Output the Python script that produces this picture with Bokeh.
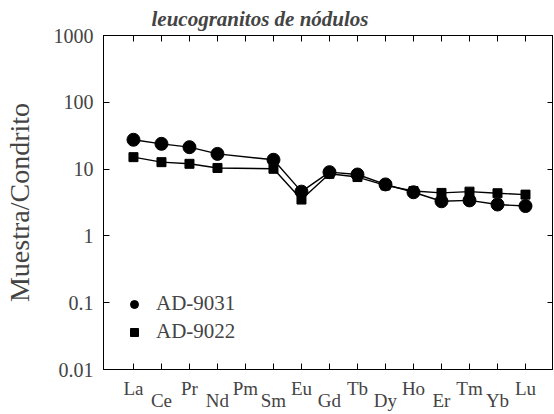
from bokeh.plotting import figure
from bokeh.models import FixedTicker, LinearAxis, LogAxis, Range1d, Legend, LegendItem
from bokeh.embed import file_html
from bokeh.resources import INLINE

elements = ["La", "Ce", "Pr", "Nd", "Pm", "Sm", "Eu", "Gd", "Tb", "Dy", "Ho", "Er", "Tm", "Yb", "Lu"]
sample_elements = ["La", "Ce", "Pr", "Nd", "Sm", "Eu", "Gd", "Tb", "Dy", "Ho", "Er", "Tm", "Yb", "Lu"]
ad9031 = [27.5, 23.9, 21.3, 16.9, 13.8, 4.6, 9.0, 8.3, 5.9, 4.5, 3.3, 3.4, 2.95, 2.8]
ad9022 = [15.1, 12.7, 12.0, 10.4, 10.1, 3.5, 8.5, 7.6, 5.7, 4.7, 4.4, 4.6, 4.35, 4.15]
y_ticks = [0.01, 0.1, 1, 10, 100, 1000]
y_tick_labels = ["0.01", "0.1", "1", "10", "100", "1000"]

SERIF = "Liberation Serif"

xs = [elements.index(e) for e in sample_elements]
even = [i for i in range(len(elements)) if i % 2 == 0]
odd = [i for i in range(len(elements)) if i % 2 == 1]

p = figure(frame_width=450, frame_height=334, output_backend="svg", toolbar_location=None,
           x_range=Range1d(-1.07, 15.0), y_range=Range1d(0.01, 1000),
           y_axis_type="log")
p.min_border_left = 0
p.min_border_right = 0
p.min_border_top = 0
p.min_border_bottom = 0
p.xgrid.visible = False
p.ygrid.visible = False
p.outline_line_color = "black"
p.outline_line_width = 1
p.background_fill_color = "white"
p.border_fill_color = "white"

p.title.text = "leucogranitos de nódulos"
p.title.text_font = SERIF
p.title.text_font_style = "bold italic"
p.title.text_font_size = "21px"
p.title.align = "left"
p.title.offset = 48
p.title.standoff = 9

# data
l1 = p.line(xs, ad9031, line_color="black", line_width=1.4)
l2 = p.line(xs, ad9022, line_color="black", line_width=1.4)
c1 = p.scatter(xs, ad9031, marker="circle", size=13, fill_color="black", line_color="black")
s2 = p.scatter(xs, ad9022, marker="square", size=9, fill_color="black", line_color="black")

# bottom axis (upper row of labels; odd positions get unlabeled minor ticks)
xa = p.xaxis[0]
xa.ticker = FixedTicker(ticks=even, minor_ticks=odd)
xa.major_label_overrides = {i: elements[i] for i in even}
xa.major_tick_in = 6
xa.major_tick_out = 0
xa.minor_tick_in = 6
xa.minor_tick_out = 0
xa.minor_tick_line_color = "black"
xa.major_label_text_font = SERIF
xa.major_label_text_font_size = "19px"
xa.major_label_standoff = 8
xa.axis_line_color = "black"

# second row of labels
xa2 = LinearAxis(ticker=FixedTicker(ticks=odd),
                 major_label_overrides={i: elements[i] for i in odd},
                 major_tick_line_color=None, minor_tick_line_color=None,
                 major_tick_out=0, minor_tick_out=0, major_tick_in=0, minor_tick_in=0,
                 axis_line_color=None, major_label_standoff=-12,
                 major_label_text_font=SERIF, major_label_text_font_size="19px")
p.add_layout(xa2, "below")

# left axis
ya = p.yaxis[0]
ya.ticker = FixedTicker(ticks=y_ticks)
ya.major_label_overrides = {t: lab for t, lab in zip(y_ticks, y_tick_labels)}
ya.major_tick_in = 6
ya.major_tick_out = 0
ya.minor_tick_line_color = None
ya.major_label_text_font = SERIF
ya.major_label_text_font_size = "20px"
ya.major_label_standoff = 10
ya.axis_label = "Muestra/Condrito"
ya.axis_label_text_font = SERIF
ya.axis_label_text_font_style = "normal"
ya.axis_label_text_font_size = "28px"
ya.axis_label_standoff = 16

# top and right tick-only axes (ticks drawn as minor ticks, so no labels)
top = LinearAxis(ticker=FixedTicker(ticks=[], minor_ticks=list(range(len(elements)))),
                 major_tick_line_color=None, major_tick_out=0, major_tick_in=0,
                 major_label_standoff=0,
                 minor_tick_in=6, minor_tick_out=0, minor_tick_line_color="black")
p.add_layout(top, "above")
right = LogAxis(ticker=FixedTicker(ticks=[], minor_ticks=y_ticks),
                major_tick_line_color=None, major_tick_out=0, major_tick_in=0,
                major_label_standoff=0,
                minor_tick_in=6, minor_tick_out=0, minor_tick_line_color="black")
p.add_layout(right, "right")

legend = Legend(items=[LegendItem(label="AD-9031", renderers=[c1]),
                       LegendItem(label="AD-9022", renderers=[s2])],
                location=(21, 25), border_line_color=None, background_fill_alpha=0,
                label_text_font=SERIF, label_text_font_size="21px",
                glyph_width=20, glyph_height=20, spacing=3, padding=10, margin=0,
                label_standoff=12)
p.add_layout(legend)

open("out.html", "w").write(file_html(p, INLINE))
